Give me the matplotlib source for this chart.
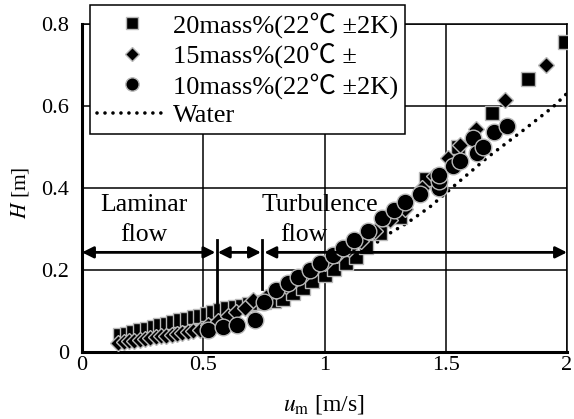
import matplotlib
matplotlib.use('Agg')
import matplotlib.pyplot as plt
from matplotlib.patches import FancyArrowPatch

plt.rcParams['font.family'] = ['Liberation Serif', 'Noto Sans CJK JP']
plt.rcParams['mathtext.fontset'] = 'stix'

# 20mass% (squares)
u_20 = [0.157, 0.185, 0.212, 0.240, 0.267, 0.295, 0.322, 0.350, 0.377, 0.405, 0.432,
        0.460, 0.487, 0.515, 0.542, 0.570, 0.597, 0.63, 0.66, 0.69, 0.72, 0.75, 0.79,
        0.83, 0.87, 0.91, 0.95, 1.00, 1.04, 1.09, 1.13, 1.17, 1.23, 1.31, 1.42, 1.55,
        1.69, 1.84, 1.99]
H_20 = [0.041, 0.045, 0.049, 0.053, 0.057, 0.061, 0.065, 0.069, 0.073, 0.077, 0.081,
        0.085, 0.089, 0.093, 0.097, 0.102, 0.107, 0.110, 0.113, 0.116, 0.119, 0.122,
        0.125, 0.130, 0.143, 0.157, 0.173, 0.188, 0.202, 0.216, 0.232, 0.255, 0.290,
        0.330, 0.423, 0.500, 0.582, 0.665, 0.755]

# 15mass% (diamonds)
u_15 = [0.150, 0.172, 0.194, 0.216, 0.238, 0.260, 0.282, 0.304, 0.326, 0.348, 0.370,
        0.392, 0.414, 0.436, 0.458, 0.487, 0.52, 0.56, 0.60, 0.635, 0.672, 0.707,
        0.76, 0.80, 0.84, 0.88, 0.92, 0.96, 1.00, 1.05, 1.10, 1.15, 1.21, 1.27, 1.33,
        1.40, 1.45, 1.51, 1.56, 1.625, 1.745, 1.915]
H_15 = [0.022, 0.024, 0.026, 0.028, 0.030, 0.032, 0.034, 0.036, 0.038, 0.040, 0.042,
        0.044, 0.046, 0.048, 0.051, 0.054, 0.065, 0.075, 0.088, 0.098, 0.107, 0.127,
        0.135, 0.150, 0.162, 0.176, 0.190, 0.204, 0.218, 0.236, 0.252, 0.270, 0.296,
        0.322, 0.350, 0.400, 0.430, 0.473, 0.505, 0.544, 0.615, 0.700]

# 10mass% (circles)
u_10 = [0.521, 0.583, 0.638, 0.715, 0.750, 0.800, 0.851, 0.892, 0.940, 0.981, 1.036,
        1.078, 1.120, 1.178, 1.236, 1.285, 1.332, 1.394, 1.473, 1.473, 1.473, 1.530,
        1.559, 1.613, 1.629, 1.652, 1.699, 1.751]
H_10 = [0.054, 0.062, 0.066, 0.078, 0.123, 0.151, 0.168, 0.184, 0.200, 0.216, 0.237,
        0.253, 0.273, 0.296, 0.326, 0.346, 0.365, 0.385, 0.400, 0.416, 0.432, 0.454,
        0.467, 0.522, 0.485, 0.501, 0.537, 0.551]

# water
u_w = [1.10, 1.215, 1.27, 1.339, 1.435, 1.538, 1.675, 1.82, 1.943, 2.0]
H_w = [0.235, 0.267, 0.290, 0.314, 0.354, 0.407, 0.476, 0.541, 0.598, 0.631]

labels = ['20mass%(22℃ ±2K)', '15mass%(20℃ ±', '10mass%(22℃ ±2K)', 'Water']

fig = plt.figure(figsize=(5.74, 4.19), dpi=100)
ax = fig.add_axes([82/574, 67/419, 485/574, 328/419])

ec = '#b8b8b8'
ax.plot(u_w, H_w, color='black', lw=2.6, linestyle=(0, (0.01, 2.2)),
        dash_capstyle='round', zorder=2, label=labels[3])
ax.plot(u_20, H_20, 's', ms=10.5, mfc='black', mec=ec, mew=1.0, zorder=3, label=labels[0])
ax.plot(u_15, H_15, 'D', ms=8.5, mfc='black', mec=ec, mew=1.0, zorder=4, label=labels[1])
ax.plot(u_10, H_10, 'o', ms=12, mfc='black', mec=ec, mew=1.0, zorder=5, label=labels[2])

ax.set_xlim(0, 2)
ax.set_ylim(0, 0.8)
ax.set_xticks([0, 0.5, 1, 1.5, 2])
ax.set_xticklabels(['0', '0.5', '1', '1.5', '2'])
ax.set_yticks([0, 0.2, 0.4, 0.6, 0.8])
ax.set_yticklabels(['0', '0.2', '0.4', '0.6', '0.8'])
ax.tick_params(length=0, labelsize=16)
ax.tick_params(axis='x', pad=3)
ax.tick_params(axis='y', pad=9)
ax.grid(True, color='black', lw=1.1)
ax.set_axisbelow(True)
for s in ['top', 'right']:
    ax.spines[s].set_linewidth(1.1)
for s in ['left', 'bottom']:
    ax.spines[s].set_linewidth(2.2)

ax.set_xlabel(r'$u_{\rm m}$ [m/s]', fontsize=17)
ax.set_ylabel(r'$H$ [m]', fontsize=15.5)
ax.xaxis.set_label_coords(0.499, -0.125)
ax.yaxis.set_label_coords(-0.105, 0.485)

# flow regime arrows
ya = 0.243
for x0, x1 in [(0.0, 0.55), (0.56, 0.738), (0.752, 2.0)]:
    ax.add_patch(FancyArrowPatch((x0, ya), (x1, ya), arrowstyle='<|-|>',
                                 mutation_scale=17, lw=2, color='black',
                                 shrinkA=0, shrinkB=0, zorder=6))
ax.plot([0.557, 0.557], [0.12, 0.273], color='black', lw=2, zorder=6)
ax.plot([0.742, 0.742], [0.153, 0.273], color='black', lw=2, zorder=6)

ax.text(0.255, 0.358, 'Laminar', ha='center', va='center', fontsize=18.5, zorder=7)
ax.text(0.255, 0.286, 'flow', ha='center', va='center', fontsize=18.5, zorder=7)
ax.text(0.981, 0.358, 'Turbulence', ha='center', va='center', fontsize=18.5, zorder=7)
ax.text(0.915, 0.286, 'flow', ha='center', va='center', fontsize=18.5, zorder=7)

h, l = ax.get_legend_handles_labels()
order = [1, 2, 3, 0]
leg = fig.legend([h[i] for i in order], [l[i] for i in order],
                 loc='upper left', bbox_to_anchor=(90/574, 1 - 5/419),
                 fontsize=19, frameon=True, fancybox=False, framealpha=1,
                 edgecolor='black', handlelength=2.7, handletextpad=0.2,
                 borderpad=0.25, labelspacing=0.18, markerscale=0.8,
                 borderaxespad=0)
leg.get_frame().set_linewidth(1.1)
leg.set_zorder(10)

fig.savefig('out.png', dpi=100)
